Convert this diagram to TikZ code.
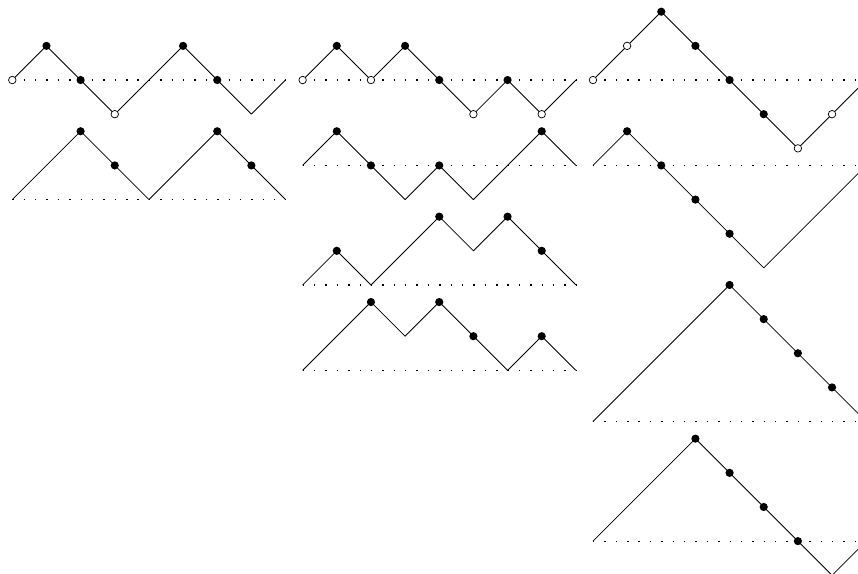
\documentclass[tikz,border=0pt]{standalone}
\begin{document}
\begin{tikzpicture}[line join=round,line width=0.7pt,
  base/.style={line width=1pt,dash pattern=on 1.2pt off 8.28pt},
  full/.style={fill=black},
  hollow/.style={fill=white,draw=black,line width=0.6pt}]
\clip(-0.36,-14.44) rectangle (24.76,2.343);
% first column
\draw[base](0,0)--(8,0);
\draw(0,0)--(1,1)--(2,0)--(3,-1)--(4,0)--(5,1)--(6,0)--(7,-1)--(8,0);
\filldraw[hollow](0,0) circle (0.11) (3,-1) circle (0.11);
\fill[full](1,1) circle (0.12) (2,0) circle (0.12) (5,1) circle (0.12) (6,0) circle (0.12);

\draw[base](0,-3.5)--(8,-3.5);
\draw(0,-3.5)--(1,-2.5)--(2,-1.5)--(3,-2.5)--(4,-3.5)--(5,-2.5)--(6,-1.5)--(7,-2.5)--(8,-3.5);
\fill[full](2,-1.5) circle (0.12) (3,-2.5) circle (0.12) (6,-1.5) circle (0.12) (7,-2.5) circle (0.12);

% second column
\draw[base](8.5,0)--(16.5,0);
\draw(8.5,0)--(9.5,1)--(10.5,0)--(11.5,1)--(12.5,0)--(13.5,-1)--(14.5,0)--(15.5,-1)--(16.5,0);
\filldraw[hollow](8.5,0) circle (0.11) (10.5,0) circle (0.11) (13.5,-1) circle (0.11) (15.5,-1) circle (0.11);
\fill[full](9.5,1) circle (0.12) (11.5,1) circle (0.12) (12.5,0) circle (0.12) (14.5,0) circle (0.12);

\draw[base](8.5,-2.5)--(16.5,-2.5);
\draw(8.5,-2.5)--(9.5,-1.5)--(10.5,-2.5)--(11.5,-3.5)--(12.5,-2.5)--(13.5,-3.5)--(14.5,-2.5)--(15.5,-1.5)--(16.5,-2.5);
\fill[full](9.5,-1.5) circle (0.12) (10.5,-2.5) circle (0.12) (12.5,-2.5) circle (0.12) (15.5,-1.5) circle (0.12);

\draw[base](8.5,-6)--(16.5,-6);
\draw(8.5,-6)--(9.5,-5)--(10.5,-6)--(11.5,-5)--(12.5,-4)--(13.5,-5)--(14.5,-4)--(15.5,-5)--(16.5,-6);
\fill[full](9.5,-5) circle (0.12) (12.5,-4) circle (0.12) (14.5,-4) circle (0.12) (15.5,-5) circle (0.12);

\draw[base](8.5,-8.5)--(16.5,-8.5);
\draw(8.5,-8.5)--(9.5,-7.5)--(10.5,-6.5)--(11.5,-7.5)--(12.5,-6.5)--(13.5,-7.5)--(14.5,-8.5)--(15.5,-7.5)--(16.5,-8.5);
\fill[full](10.5,-6.5) circle (0.12) (12.5,-6.5) circle (0.12) (13.5,-7.5) circle (0.12) (15.5,-7.5) circle (0.12);

% third column
\draw[base](17,0)--(25,0);
\draw(17,0)--(18,1)--(19,2)--(20,1)--(21,0)--(22,-1)--(23,-2)--(24,-1)--(25,0);
\filldraw[hollow](17,0) circle (0.11) (18,1) circle (0.11) (23,-2) circle (0.11) (24,-1) circle (0.11);
\fill[full](19,2) circle (0.12) (20,1) circle (0.12) (21,0) circle (0.12) (22,-1) circle (0.12);

\draw[base](17,-2.5)--(25,-2.5);
\draw(17,-2.5)--(18,-1.5)--(19,-2.5)--(20,-3.5)--(21,-4.5)--(22,-5.5)--(23,-4.5)--(24,-3.5)--(25,-2.5);
\fill[full](18,-1.5) circle (0.12) (19,-2.5) circle (0.12) (20,-3.5) circle (0.12) (21,-4.5) circle (0.12);

\draw[base](17,-10)--(25,-10);
\draw(17,-10)--(21,-6)--(25,-10);
\fill[full](21,-6) circle (0.12) (22,-7) circle (0.12) (23,-8) circle (0.12) (24,-9) circle (0.12);

\draw[base](17,-13.5)--(25,-13.5);
\draw(17,-13.5)--(20,-10.5)--(24,-14.5)--(25,-13.5);
\fill[full](20,-10.5) circle (0.12) (21,-11.5) circle (0.12) (22,-12.5) circle (0.12) (23,-13.5) circle (0.12);
\end{tikzpicture}
\end{document}
